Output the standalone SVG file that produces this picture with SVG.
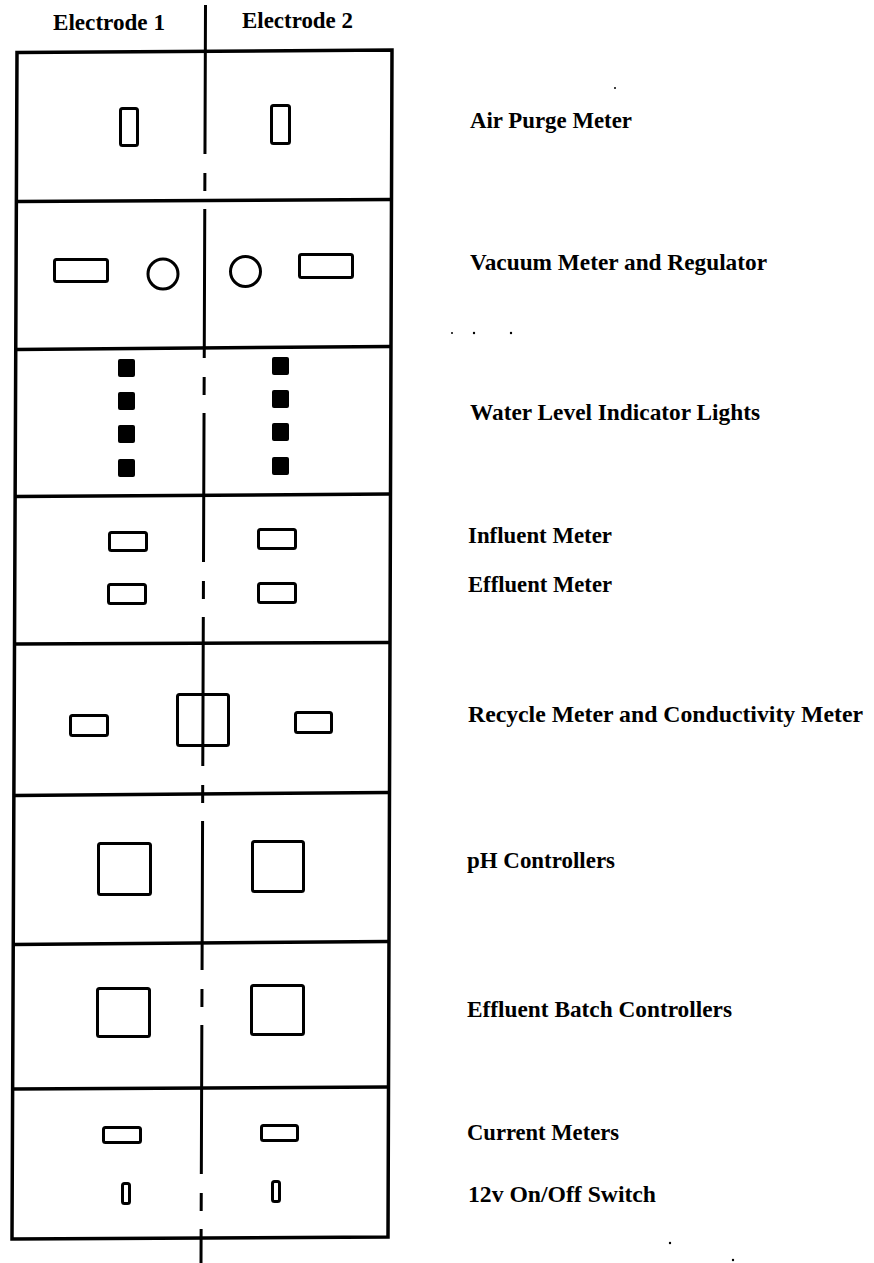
<svg xmlns="http://www.w3.org/2000/svg" width="874" height="1263" viewBox="0 0 874 1263">
  <style>
    .frame { fill: none; stroke: #000; stroke-width: 3.5; stroke-linejoin: miter; }
    .div { stroke: #000; stroke-width: 3.5; }
    .inst { fill: #fff; stroke: #000; stroke-width: 3; }
    .lamp { fill: #000; }
    .axis { stroke: #000; stroke-width: 3; fill: none; stroke-dasharray: 149 19 18 18; }
    .head { font-family: "Liberation Serif", "Times New Roman", serif; font-size: 23px; font-weight: bold; fill: #000; }
    .lbl { font-family: "Liberation Serif", "Times New Roman", serif; font-size: 23px; font-weight: bold; fill: #000; }
    .speck { fill: #000; }
  </style>

  <rect x="0" y="0" width="874" height="1263" fill="#fff"/>

  <!-- column headings -->
  <g id="headings">
    <text class="head" x="53" y="30" textLength="112" lengthAdjust="spacingAndGlyphs">Electrode 1</text>
    <text class="head" x="242" y="28" textLength="111" lengthAdjust="spacingAndGlyphs">Electrode 2</text>
  </g>

  <!-- cabinet outline and shelf dividers -->
  <g id="cabinet">
    <path class="frame" d="M17,52.5 L392,50 L388,1237 L12,1239 Z"/>
    <line class="div" x1="16.5" y1="201.5" x2="391.5" y2="199.5"/>
    <line class="div" x1="16" y1="349.5" x2="391" y2="346.5"/>
    <line class="div" x1="15" y1="496.5" x2="390.5" y2="494"/>
    <line class="div" x1="14.5" y1="644" x2="390" y2="642.5"/>
    <line class="div" x1="14" y1="795.5" x2="389.5" y2="792.5"/>
    <line class="div" x1="13" y1="944.5" x2="389" y2="941.5"/>
    <line class="div" x1="12.5" y1="1089" x2="388.5" y2="1087"/>
  </g>

  <!-- electrode split (dash-dot centre line) -->
  <g id="connectors">
    <line class="axis" x1="205.5" y1="5" x2="201" y2="1263"/>
  </g>

  <g id="air-purge">
    <rect class="inst" x="120.5" y="108.5" width="17" height="37" rx="2"/>
    <rect class="inst" x="271.5" y="105.5" width="18" height="38" rx="2"/>
    <text class="lbl" x="470" y="128" textLength="162" lengthAdjust="spacingAndGlyphs">Air Purge Meter</text>
  </g>

  <g id="vacuum">
    <rect class="inst" x="54.5" y="259.5" width="53" height="22" rx="2"/>
    <circle class="inst" cx="163" cy="274" r="15"/>
    <circle class="inst" cx="245.5" cy="271.5" r="15"/>
    <rect class="inst" x="299.5" y="254.5" width="53" height="23" rx="2"/>
    <text class="lbl" x="470" y="270" textLength="297" lengthAdjust="spacingAndGlyphs">Vacuum Meter and Regulator</text>
  </g>

  <g id="water-level">
    <rect class="lamp" x="118" y="359" width="17" height="18" rx="2"/>
    <rect class="lamp" x="118" y="392" width="17" height="18" rx="2"/>
    <rect class="lamp" x="118" y="425" width="17" height="18" rx="2"/>
    <rect class="lamp" x="118" y="459" width="17" height="18" rx="2"/>
    <rect class="lamp" x="272" y="357" width="17" height="18" rx="2"/>
    <rect class="lamp" x="272" y="390" width="17" height="18" rx="2"/>
    <rect class="lamp" x="272" y="423" width="17" height="18" rx="2"/>
    <rect class="lamp" x="272" y="457" width="17" height="18" rx="2"/>
    <text class="lbl" x="470" y="420" textLength="290" lengthAdjust="spacingAndGlyphs">Water Level Indicator Lights</text>
  </g>

  <g id="influent-effluent">
    <rect class="inst" x="109.5" y="532.5" width="37" height="18" rx="2"/>
    <rect class="inst" x="108.5" y="584.5" width="37" height="19" rx="2"/>
    <rect class="inst" x="258.5" y="529.5" width="37" height="19" rx="2"/>
    <rect class="inst" x="258.5" y="583.5" width="37" height="19" rx="2"/>
    <text class="lbl" x="468" y="543" textLength="144" lengthAdjust="spacingAndGlyphs">Influent Meter</text>
    <text class="lbl" x="468" y="592" textLength="144" lengthAdjust="spacingAndGlyphs">Effluent Meter</text>
  </g>

  <g id="recycle-conductivity">
    <rect class="inst" x="70.5" y="715.5" width="37" height="20" rx="2"/>
    <rect x="177.5" y="694.5" width="51" height="51" rx="2" fill="none" stroke="#000" stroke-width="3"/>
    <rect class="inst" x="295.5" y="712.5" width="36" height="20" rx="2"/>
    <text class="lbl" x="468" y="722" textLength="395" lengthAdjust="spacingAndGlyphs">Recycle Meter and Conductivity Meter</text>
  </g>

  <g id="ph-controllers">
    <rect class="inst" x="98.5" y="843.5" width="52" height="51" rx="2"/>
    <rect class="inst" x="252.5" y="841.5" width="51" height="50" rx="2"/>
    <text class="lbl" x="467" y="868" textLength="148" lengthAdjust="spacingAndGlyphs">pH Controllers</text>
  </g>

  <g id="batch-controllers">
    <rect class="inst" x="97.5" y="988.5" width="52" height="48" rx="2"/>
    <rect class="inst" x="251.5" y="985.5" width="52" height="49" rx="2"/>
    <text class="lbl" x="467" y="1017" textLength="265" lengthAdjust="spacingAndGlyphs">Effluent Batch Controllers</text>
  </g>

  <g id="current-switch">
    <rect class="inst" x="103.5" y="1127.5" width="37" height="15" rx="2"/>
    <rect class="inst" x="261.5" y="1125.5" width="36" height="15" rx="2"/>
    <rect class="inst" x="122.5" y="1183.5" width="7" height="20" rx="2"/>
    <rect class="inst" x="272.5" y="1181.5" width="7" height="20" rx="2"/>
    <text class="lbl" x="467" y="1140" textLength="152" lengthAdjust="spacingAndGlyphs">Current Meters</text>
    <text class="lbl" x="468" y="1202" textLength="188" lengthAdjust="spacingAndGlyphs">12v On/Off Switch</text>
  </g>

  <!-- loose print specks -->
  <g id="specks">
    <circle class="speck" cx="452" cy="333" r="1"/>
    <circle class="speck" cx="474" cy="333" r="1.2"/>
    <circle class="speck" cx="511" cy="333" r="1.2"/>
    <circle class="speck" cx="615" cy="88" r="1"/>
    <circle class="speck" cx="670" cy="1243" r="1.2"/>
    <circle class="speck" cx="733" cy="1260" r="1.2"/>
  </g>
</svg>
